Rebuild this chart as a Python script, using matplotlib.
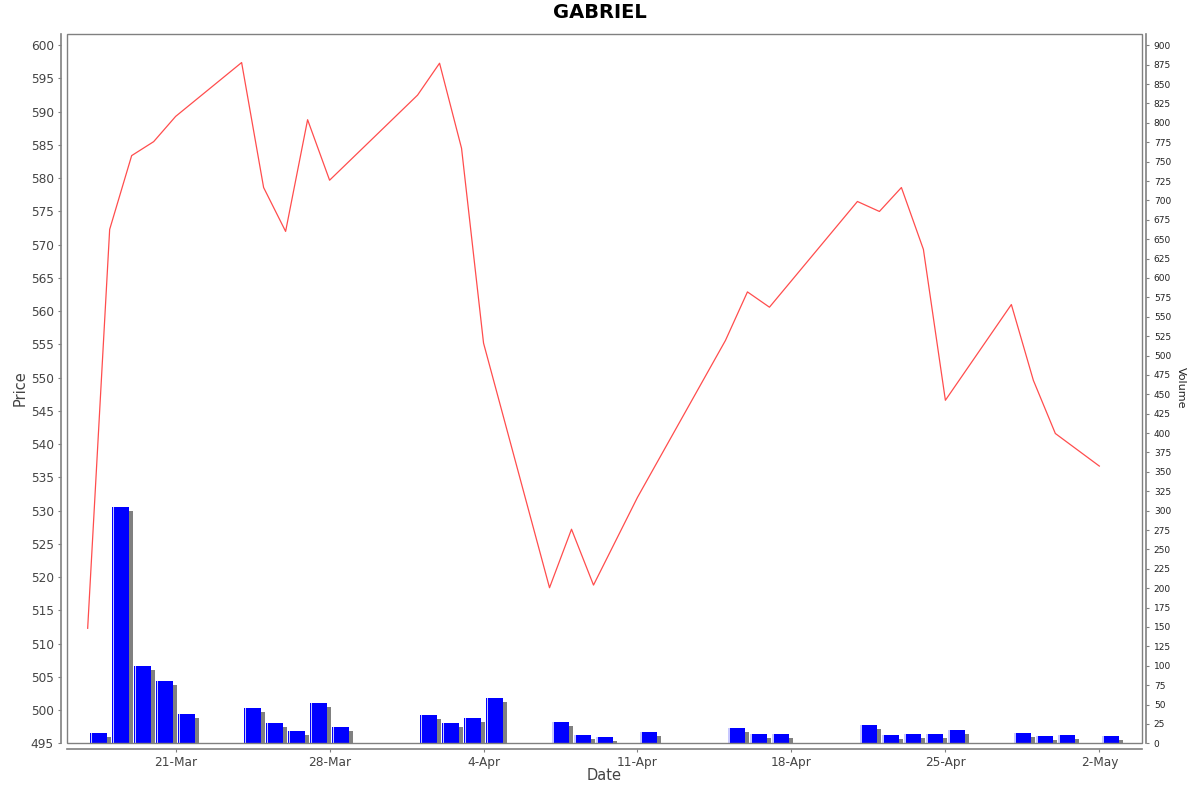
import datetime as dt

import matplotlib
matplotlib.use("Agg")
import matplotlib.pyplot as plt
import matplotlib.dates as mdates
from matplotlib.patches import Rectangle
from matplotlib.transforms import ScaledTranslation
from matplotlib.ticker import MultipleLocator, FuncFormatter


# data (2025 trading days)
dates = [
    "2025-03-17", "2025-03-18", "2025-03-19", "2025-03-20", "2025-03-21",
    "2025-03-24", "2025-03-25", "2025-03-26", "2025-03-27", "2025-03-28",
    "2025-04-01", "2025-04-02", "2025-04-03", "2025-04-04",
    "2025-04-07", "2025-04-08", "2025-04-09", "2025-04-11",
    "2025-04-15", "2025-04-16", "2025-04-17",
    "2025-04-21", "2025-04-22", "2025-04-23", "2025-04-24", "2025-04-25",
    "2025-04-28", "2025-04-29", "2025-04-30", "2025-05-02",
]
price = [
    512.3, 572.3, 583.4, 585.5, 589.3,
    597.4, 578.6, 572.0, 588.8, 579.7,
    592.5, 597.3, 584.5, 555.2,
    518.4, 527.2, 518.8, 532.0,
    555.6, 562.9, 560.6,
    576.5, 575.0, 578.6, 569.3, 546.6,
    561.0, 549.6, 541.6, 536.7,
]
volume = [
    13.8, 305.0, 100.0, 80.0, 38.0,
    46.0, 26.0, 16.5, 52.0, 21.0,
    37.0, 26.0, 32.0, 58.0,
    27.0, 11.0, 8.0, 14.0,
    20.0, 12.5, 12.5,
    23.0, 10.5, 12.5, 11.5, 17.0,
    13.5, 9.0, 10.5, 9.0,
]

title = "GABRIEL"

GRAY = "#808080"
TEXT = "#444444"

W, H = 1200, 792
fig = plt.figure(figsize=(W / 100, H / 100), dpi=100)

# plot area in pixels: x 67..1142, y 34..743
left, right, top, bottom = 67, 1142, 34, 743.3
ax = fig.add_axes([left / W, 1 - bottom / H, (right - left) / W, (bottom - top) / H])
ax2 = ax.twinx()

x = [mdates.date2num(dt.datetime.strptime(d, "%Y-%m-%d")) for d in dates]

# volume bars: JFreeChart style, 20% margin, grey drop shadow
bar_w = 0.8
centers = [v + 0.5 for v in x]
shadow = ax2.bar(centers, volume, width=bar_w, color=GRAY, linewidth=0, zorder=1)
off = ScaledTranslation(4 / 100, -4 / 100, fig.dpi_scale_trans)
for p in shadow:
    p.set_transform(ax2.transData + off)
ax2.bar(centers, volume, width=bar_w, color="#0000ff", linewidth=0, zorder=2)
# light highlight stripe near the left edge of each bar
ax2.bar([c - bar_w / 2 + 0.07 for c in centers], volume, width=0.07,
        color="#c8c8ff", linewidth=0, zorder=3)

# price line
ax.plot(x, price, color="#ff4d4d", lw=0.9, zorder=5)
ax.set_zorder(ax2.get_zorder() + 1)
ax.patch.set_visible(False)

x0 = mdates.date2num(dt.datetime(2025, 3, 17))
x1 = mdates.date2num(dt.datetime(2025, 5, 3))
span = x1 - x0
ax.set_xlim(x0 - 0.02 * span, x1 + 0.02 * span)

ppx = 5 / 33.24
ax.set_ylim(495, 495 + (bottom - top) * ppx)
ax2.set_ylim(0, (bottom - top) * 900 / 698)

ax.yaxis.set_major_locator(MultipleLocator(5))
ax2.yaxis.set_major_locator(MultipleLocator(25))
ax.xaxis.set_major_locator(mdates.WeekdayLocator(byweekday=mdates.FR))
ax.xaxis.set_major_formatter(FuncFormatter(
    lambda v, pos: "%d-%s" % (mdates.num2date(v).day, mdates.num2date(v).strftime("%b"))))

# axes lines offset from the plot border
for s in ["top", "right"]:
    ax.spines[s].set_visible(False)
for s in ["left", "bottom"]:
    ax.spines[s].set_position(("outward", 4))
    ax.spines[s].set_color(GRAY)
    ax.spines[s].set_linewidth(1.2)
for s in ["top", "left", "bottom"]:
    ax2.spines[s].set_visible(False)
ax2.spines["right"].set_position(("outward", 3))
ax2.spines["right"].set_color(GRAY)
ax2.spines["right"].set_linewidth(1.2)

ax.add_patch(Rectangle((0, 0), 1, 1, transform=ax.transAxes, fill=False,
                       edgecolor=GRAY, lw=1.0, zorder=10, clip_on=False))

ax.tick_params(axis="y", length=2.5, width=0.8, color=GRAY, pad=3,
               labelsize=8.7, labelcolor=TEXT)
ax.tick_params(axis="x", length=2.5, width=0.8, color=GRAY, pad=3,
               labelsize=8.7, labelcolor=TEXT)
ax2.tick_params(axis="y", length=2.5, width=0.8, color=GRAY, pad=3,
                labelsize=6.5, labelcolor="#222222")

fig.text(0.5, 1 - 13 / H, title, ha="center", va="center",
         fontsize=14, fontweight="bold", color="black")
fig.text(20 / W, 1 - 388 / H, "Price", rotation=90, ha="center", va="center",
         fontsize=10.5, color=TEXT)
fig.text(604 / W, 1 - 776 / H, "Date", ha="center", va="center",
         fontsize=10.5, color=TEXT)
fig.text(1181 / W, 1 - 388 / H, "Volume", rotation=-90, ha="center", va="center",
         fontsize=8, color="#222222")

fig.savefig("out.png", dpi=100)
